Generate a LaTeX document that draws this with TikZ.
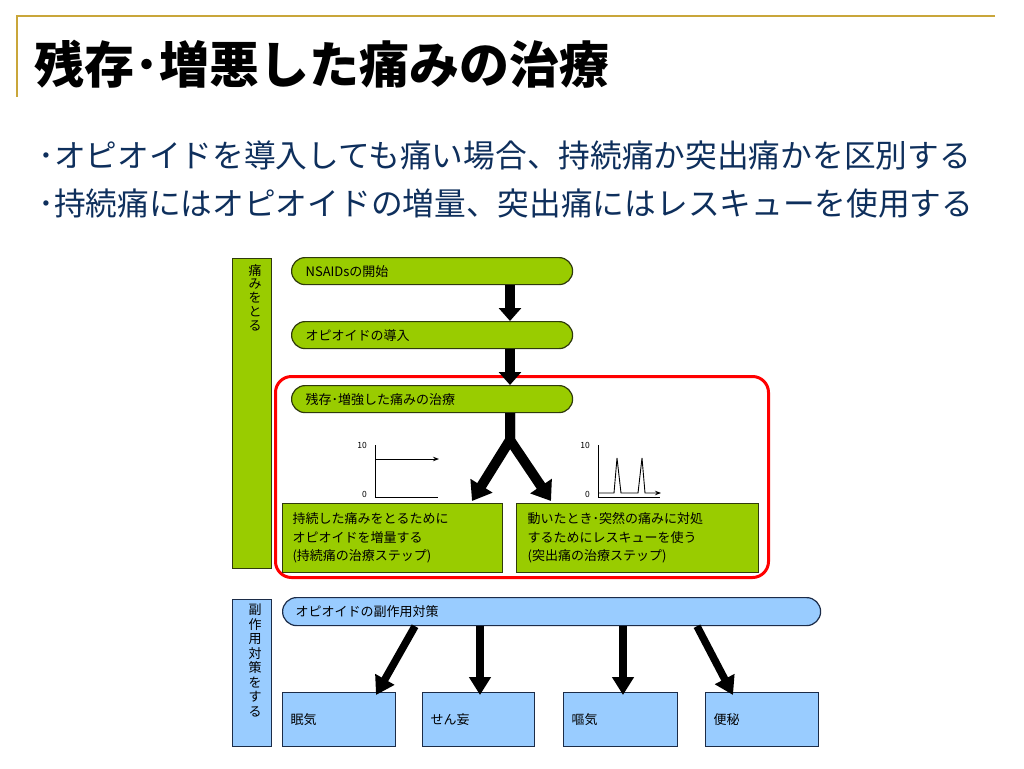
\documentclass[tikz,border=0pt]{standalone}
\usepackage{fontspec}
\setmainfont{Noto Sans CJK JP}
\usetikzlibrary{arrows.meta}
\definecolor{gold}{HTML}{C9A63A}
\definecolor{navy}{HTML}{0E2F5C}
\definecolor{gfill}{HTML}{99CC00}
\definecolor{gdraw}{HTML}{2F3A0C}
\definecolor{bfill}{HTML}{99CCFF}
\definecolor{bdraw}{HTML}{1C2C48}
\begin{document}
\begin{tikzpicture}[x=1pt,y=-1pt,
  gbox/.style={draw=gdraw, fill=gfill, line width=1.2pt},
  bbox/.style={draw=bdraw, fill=bfill, line width=1.2pt},
  boxtext/.style={font=\fontsize{13}{18.5}\selectfont, align=left, anchor=north west, inner ysep=0pt},
  pill/.style={boxtext, rounded corners=13.5pt, minimum height=27pt, inner xsep=14pt},
  vtext/.style={font=\fontsize{13}{13.8}\selectfont, align=center, anchor=north, inner sep=0pt},
  bartall/.style={anchor=north west, inner sep=0pt, minimum width=39pt},
  glabel/.style={font=\fontsize{8.5}{9}\selectfont, anchor=east, inner sep=0pt},
  bigarrow/.style={line width=10pt, -{Triangle[width=22pt,length=13pt]}},
  splitarrow/.style={line width=10pt, -{Triangle[width=25pt,length=18pt]}},
  sidearrow/.style={line width=7.5pt, -{Triangle[width=21pt,length=18pt]}},
  bullet/.style={font=\fontsize{31.7}{34}\selectfont, text=navy, anchor=west, inner sep=0pt}
]
\useasboundingbox (0,0) rectangle (1024,768);
\fill[white] (0,0) rectangle (1024,768);

% title decoration
\draw[gold, line width=2.5pt] (995,16) -- (17,16) -- (17,97);
\node[anchor=west, inner sep=0pt, font=\fontsize{50}{52}\selectfont\bfseries] (title) at (34,64) {残存･増悪した痛みの治療};

% bullets
\node[bullet] (b1) at (38,155) {･オピオイドを導入しても痛い場合、持続痛か突出痛かを区別する};
\node[bullet] (b2) at (38,203) {･持続痛にはオピオイドの増量、突出痛にはレスキューを使用する};

% left green bar
\node[gbox, bartall, minimum height=310pt] (gbar) at (232,258) {};
\node[vtext] (gbart) at (255,264) {痛\\み\\を\\と\\る};

% red focus frame
\node[draw=red, line width=3pt, rounded corners=16pt, minimum width=493pt, minimum height=201pt, anchor=north west, inner sep=0pt] (focus) at (274,375) {};

% pills
\node[gbox, pill, text width=253pt] (n1) at (291,257) {NSAIDsの開始};
\node[gbox, pill, text width=253pt] (n2) at (291,321) {オピオイドの導入};
\node[gbox, pill, text width=253pt] (n3) at (291,385) {残存･増強した痛みの治療};

% step boxes
\node[gbox, boxtext, text width=200pt, inner xsep=10pt, minimum height=69pt] (bL) at (282,503) {持続した痛みをとるために\\オピオイドを増量する\\(持続痛の治療ステップ)};
\node[gbox, boxtext, text width=220pt, inner xsep=11pt, minimum height=69pt] (bR) at (516,503) {動いたとき･突然の痛みに対処\\するためにレスキューを使う\\(突出痛の治療ステップ)};

% arrows top
\coordinate (ax) at (510,0);
\coordinate (split) at (510,440);
\coordinate (tipL) at (472,501);
\coordinate (tipR) at (551,501);
\draw[bigarrow] (n1.south -| ax) -- (n2.north -| ax);
\draw[bigarrow] (n2.south -| ax) -- (n3.north -| ax);
\draw[splitarrow] (n3.south -| ax) -- (split) -- (tipL);
\draw[splitarrow] (n3.south -| ax) -- (split) -- (tipR);

% graph: persistent pain
\node[glabel] (g1hi) at (367,445) {10};
\node[glabel] (g1lo) at (367,494) {0};
\draw[line width=0.9pt] (375,445) -- (375,497) -- (438,497);
\draw[line width=0.9pt, -{Stealth[length=6pt,width=4.5pt]}] (375,459) -- (439,459);

% graph: breakthrough pain
\node[glabel] (g2hi) at (590,445) {10};
\node[glabel] (g2lo) at (590,494) {0};
\draw[line width=0.9pt] (598,445) -- (598,497) -- (660,497);
\draw[line width=0.9pt, -{Stealth[length=6pt,width=4.5pt]}] (598,493) -- (614,493) -- (617,458) -- (621,493) -- (638,493) -- (642,458) -- (645,493) -- (661,493);

% side-effect section
\node[bbox, bartall, minimum height=147pt] (bbar) at (232,599) {};
\node[vtext, font=\fontsize{13}{14.5}\selectfont] (bbart) at (255,604) {副\\作\\用\\対\\策\\を\\す\\る};

\node[bbox, boxtext, rounded corners=14pt, minimum height=28pt, text width=512pt, inner xsep=13pt] (sb) at (282,597) {オピオイドの副作用対策};

\node[bbox, boxtext, text width=97pt, inner xsep=8pt, minimum height=54pt] (s1) at (282,692) {眠気};
\node[bbox, boxtext, text width=96pt, inner xsep=8pt, minimum height=54pt] (s2) at (422,692) {せん妄};
\node[bbox, boxtext, text width=98pt, inner xsep=8pt, minimum height=54pt] (s3) at (563,692) {嘔気};
\node[bbox, boxtext, text width=97pt, inner xsep=8pt, minimum height=54pt] (s4) at (705,692) {便秘};

\coordinate (a1s) at (415,0);
\coordinate (a1e) at (376,0);
\coordinate (a2) at (480,0);
\coordinate (a3) at (623,0);
\coordinate (a4s) at (697,0);
\coordinate (a4e) at (733,0);
\draw[sidearrow] (sb.south -| a1s) -- ([yshift=-3pt]s1.north -| a1e);
\draw[sidearrow] (sb.south -| a2) -- ([yshift=-3pt]s2.north -| a2);
\draw[sidearrow] (sb.south -| a3) -- ([yshift=-3pt]s3.north -| a3);
\draw[sidearrow] (sb.south -| a4s) -- ([yshift=-3pt]s4.north -| a4e);
\end{tikzpicture}
\end{document}
